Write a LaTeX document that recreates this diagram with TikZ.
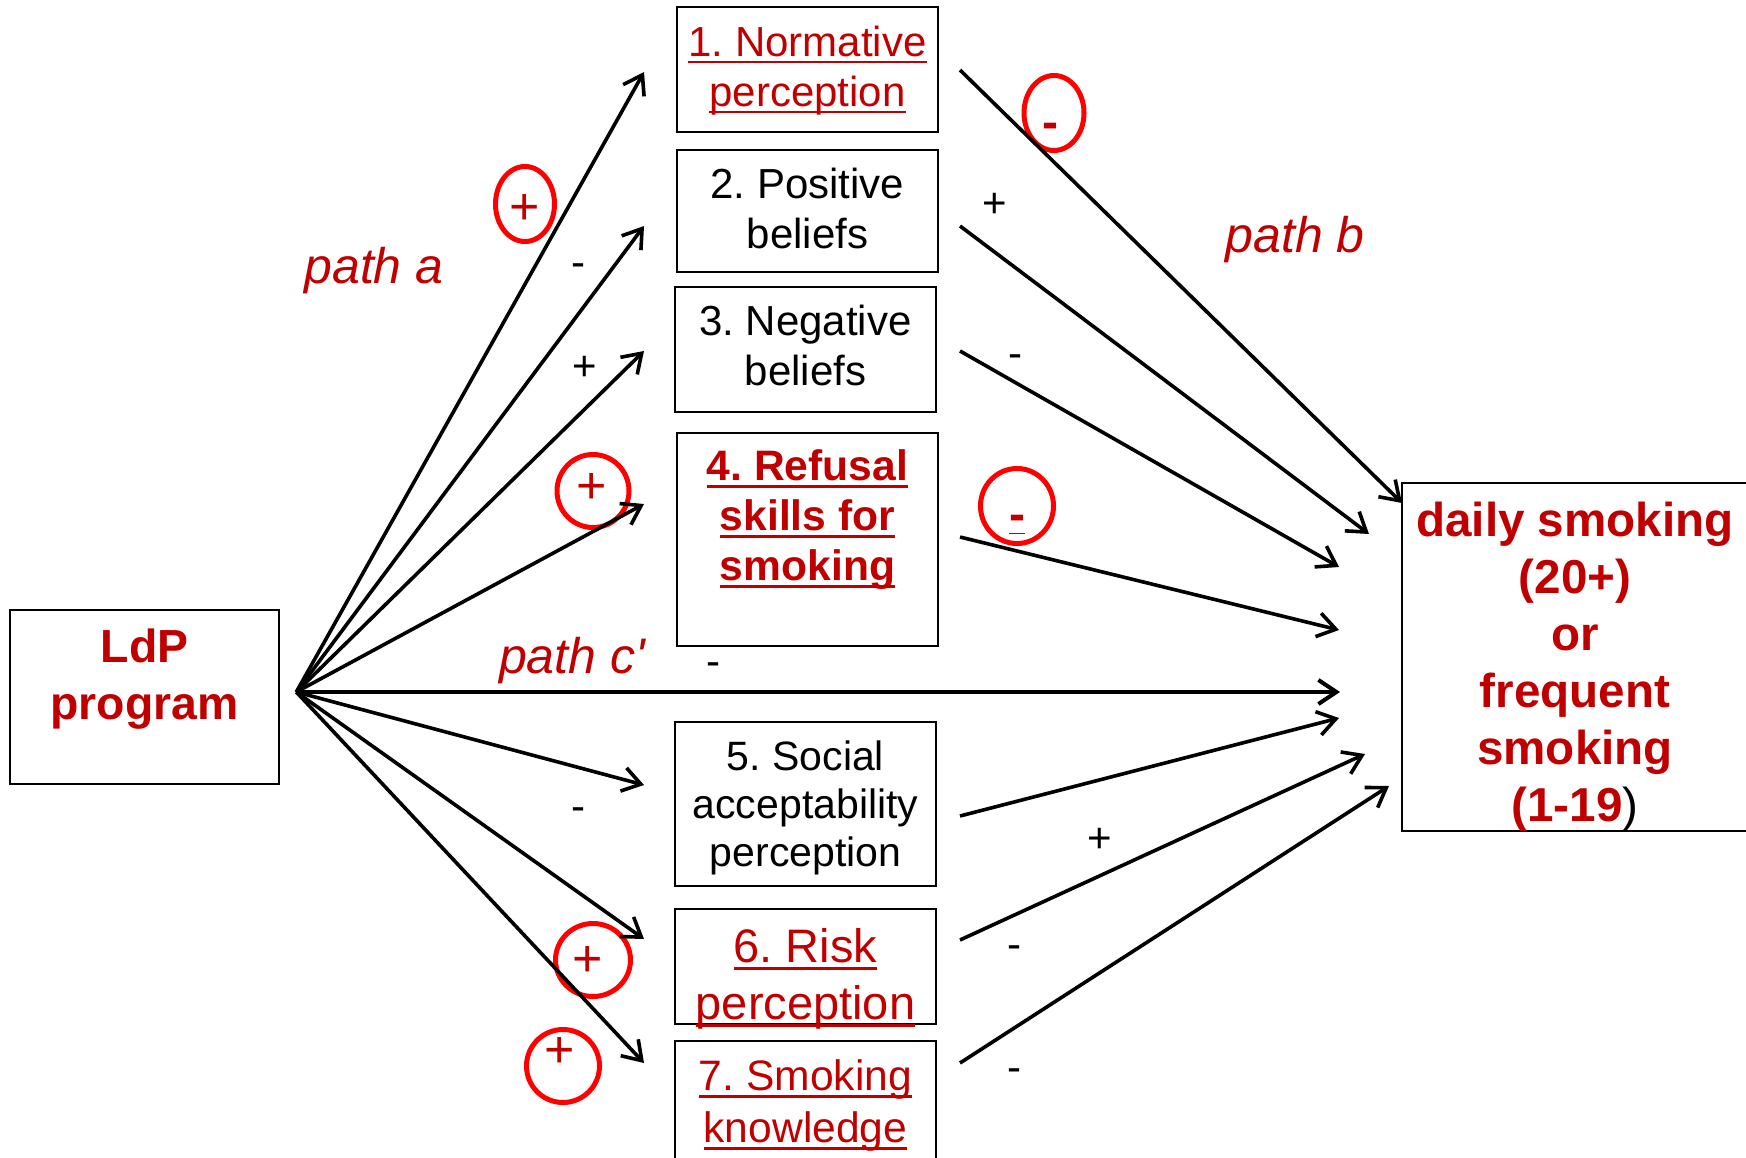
\documentclass[tikz,border=0pt]{standalone}
\usepackage{fontspec}
\setmainfont{Liberation Sans}
\usepackage{xcolor}
\usepackage{tikz}
\usetikzlibrary{arrows.meta,positioning,shapes.geometric}

\definecolor{txtred}{HTML}{C00000}
\definecolor{ringred}{HTML}{FF0000}

\frenchspacing
\newcommand{\ulin}[1]{\leavevmode\setbox0=\hbox{#1}\rlap{\rule[-0.16em]{\wd0}{0.065em}}\box0}

\tikzset{
	box/.style={draw, line width=1.3pt, inner sep=0pt},
	boxtext/.style={inner sep=0pt, align=center, font=\fontsize{21}{25}\selectfont},
	arr/.style={-{Straight Barb[length=9pt,width=12pt]}, line width=1.8pt},
	ring/.style={ellipse, draw=ringred, line width=2.5pt, inner sep=0pt},
	redsign/.style={inner sep=0pt, text=txtred, font=\fontsize{26}{26}\selectfont},
	sign/.style={inner sep=0pt, font=\fontsize{21}{21}\selectfont},
	pathlabel/.style={anchor=base, inner sep=0pt, text=txtred, font=\fontsize{25}{25}\selectfont\itshape}
}

\begin{document}
\begin{tikzpicture}[x=0.5pt,y=-0.5pt]
		\useasboundingbox (0,0) rectangle (1746,1157);

		\node[box, minimum width=134.5pt, minimum height=87pt] (ldp) at (144.5,697) {};
		\node[box, minimum width=130.5pt, minimum height=62.5pt] (b1) at (807.5,69.5) {};
		\node[box, minimum width=130.5pt, minimum height=61pt] (b2) at (807.5,211) {};
		\node[box, minimum width=130.5pt, minimum height=62.5pt] (b3) at (805.5,349.5) {};
		\node[box, minimum width=130.5pt, minimum height=106.5pt] (b4) at (807.5,539.5) {};
		\node[box, minimum width=130.5pt, minimum height=82pt] (b5) at (805.5,804) {};
		\node[box, minimum width=130.5pt, minimum height=57.5pt] (b6) at (805.5,966.5) {};
		\node[box, minimum width=130.5pt, minimum height=70pt] (b7) at (805.5,1111) {};
		\node[box, minimum width=173pt, minimum height=174pt] (out) at (1575,657) {};

		\node[boxtext, text=txtred, font=\fontsize{23.2}{28.5}\selectfont\bfseries, below=10pt of ldp.north] (ldptext) {LdP\\program};
		\node[boxtext, text=txtred, below=10pt of b1.north] (t1) {\ulin{1. Normative}\\\ulin{perception}};
		\node[boxtext, below=9.5pt of b2.north] (t2) {2. Positive\\beliefs};
		\node[boxtext, below=9.5pt of b3.north] (t3) {3. Negative\\beliefs};
		\node[boxtext, text=txtred, font=\fontsize{21.3}{25}\selectfont\bfseries, below=9pt of b4.north] (t4) {\ulin{4. Refusal}\\\ulin{skills for}\\\ulin{smoking}};
		\node[boxtext, font=\fontsize{20.5}{24}\selectfont, below=10pt of b5.north] (t5) {5. Social\\acceptability\\perception};
		\node[boxtext, text=txtred, font=\fontsize{23.5}{28.5}\selectfont, below=10pt of b6.north] (t6) {\ulin{6. Risk}\\\ulin{perception}};
		\node[boxtext, text=txtred, font=\fontsize{21.3}{26}\selectfont, below=10pt of b7.north] (t7) {\ulin{7. Smoking}\\\ulin{knowledge}};
		\node[boxtext, text=txtred, font=\fontsize{23.8}{28.5}\selectfont\bfseries, below=10pt of out.north] (outtext) {daily smoking\\(20+)\\or\\frequent\\smoking\\(1-19\textcolor{black}{\mdseries)}};

		\node[ring, minimum width=29.5pt, minimum height=37.5pt] (ringA) at (525,204) {};
		\node[ring, minimum width=36pt, minimum height=36.5pt] (ringB) at (593,491) {};
		\node[ring, minimum width=37.5pt, minimum height=36.5pt] (ringC) at (593,960) {};
		\node[ring, minimum width=36.5pt, minimum height=36.5pt] (ringD) at (563,1066) {};
		\node[ring, minimum width=30pt, minimum height=37.5pt] (ringE) at (1054,113) {};
		\node[ring, minimum width=36.5pt, minimum height=37.5pt] (ringF) at (1017,506) {};

		\coordinate (fan) at ([xshift=8pt,yshift=2.5pt]ldp.east);
		\coordinate (cend) at (1340,692);
		\foreach \y [count=\i] in {72,226,351,504,785,939,1063}
			\coordinate (a\i) at (644,\y);
		\foreach \y [count=\i] in {70,226,351,537,816,940,1063}
			\coordinate (s\i) at (960,\y);
		\foreach \x/\y [count=\i] in {1402/503,1369/534,1339/567,1339/630,1339/718,1365/754,1389/786}
			\coordinate (o\i) at (\x,\y);

		\foreach \i in {1,...,7} {
			\draw[arr] (fan) -- (a\i);
			\draw[arr] (s\i) -- (o\i);
		}
		\draw[arr, line width=2pt] (fan) -- (cend);

		\node[redsign] (sA) at (525,209) {+};
		\node[redsign] (sB) at (592,488) {+};
		\node[redsign] (sC) at (588,961) {+};
		\node[redsign] (sD) at (560,1052) {+};
		\node[redsign, font=\fontsize{24}{24}\selectfont\bfseries] (sE) at (1050,131) {-};
		\node[redsign, font=\fontsize{24}{24}\selectfont\bfseries] (sF) at (1017,525) {\underline{-}};

		\node[sign] (m1) at (578,270) {-};
		\node[sign] (p1) at (585,368) {+};
		\node[sign] (m2) at (578,814) {-};
		\node[sign] (p2) at (995,205) {+};
		\node[sign] (m3) at (1015,361) {-};
		\node[sign] (m4) at (713,669) {-};
		\node[sign] (p3) at (1100,840) {+};
		\node[sign] (m5) at (1014,952) {-};
		\node[sign] (m6) at (1014,1075) {-};

		\node[pathlabel] (pa) at (374,283) {path a};
		\node[pathlabel] (pb) at (1295,252) {path b};
		\node[pathlabel] (pc) at (572,673) {path c\textquotesingle};
\end{tikzpicture}
\end{document}
